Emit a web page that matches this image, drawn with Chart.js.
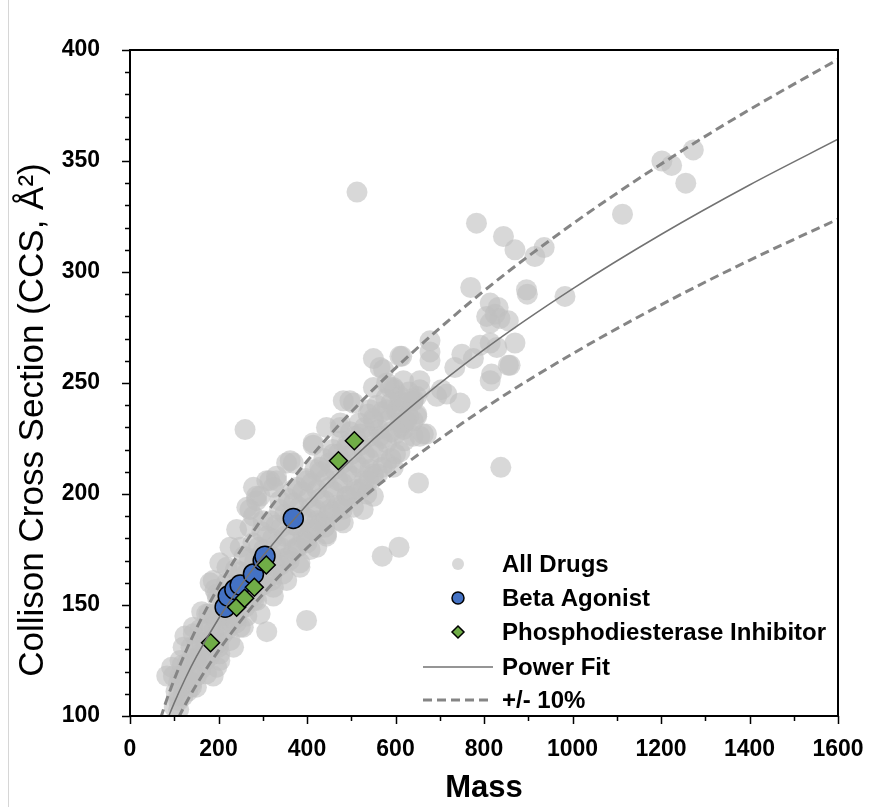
<!DOCTYPE html>
<html>
<head>
<meta charset="utf-8">
<title>CCS vs Mass</title>
<script src="https://cdn.jsdelivr.net/npm/chart.js@4.4.0/dist/chart.umd.min.js"></script>
<style>
  html, body { margin: 0; padding: 0; background: #fff; }
  #wrap { position: relative; width: 873px; height: 807px; }
  #edge { position: absolute; left: 8px; top: 0; width: 1px; height: 807px; background: #d6d6d6; }
  canvas { display: block; }
</style>
</head>
<body>
<div id="wrap">
  <div id="edge"></div>
  <canvas id="ccsChart" width="873" height="807"></canvas>
</div>
<script>
// [mass, CCS] pairs
const allDrugs = [
  // outliers and sparse points
  [513,336],[260,229],[309,138],[399,143],[570,172],[608,176],[652,205],[838,212],
  [783,322],[844,316],[870,310],[915,307],[936,311],[1113,326],[1202,350],[1224,348],
  [1273,355],[1256,340],[770,293],[896,292],[898,290],[983,289],
  [814,286],[832,284],[825,281],[855,278],[814,277],[806,280],[836,279],
  [678,269],[678,264],[678,260],[614,262],[750,263],[734,257],[791,267],[814,268],
  [776,261],[870,268],[859,258],[817,254],[814,251],[829,266],[855,258],
  [704,247],[746,241],[716,245],[693,244],[655,247],[640,242],[648,236],[640,226],
  [663,227],[610,239],[580,250],[610,262],[565,257],[610,230],[648,235],
  [550,261],[573,256],[497,242],[475,230],[414,223],[362,215],[331,208],[294,199],
  [279,190],[648,244],[655,251],[618,251],[588,248],[542,238],[603,238],[618,229],
  [655,226],[565,226],[542,211],[527,203],[490,199],[452,193],[422,188],
  [482,242],[354,214],[316,206],[286,199],[271,193],
  [550,199],[527,193],[482,187],[444,181],[407,175],
  [286,197],[309,206],[331,206],[369,214],[414,222],[444,230],[475,232],[505,241],
  [550,248],[595,248],[640,242],[670,227],[595,212],[550,208],[535,200],[505,194],
  [475,188],[444,182],[422,176],[384,167],[354,161],[324,154],[294,146],[256,140],
  [234,131],[203,125],[173,119],[158,128],[143,137],[173,146],[196,155],[219,167],
  [249,176],[271,185],[301,188],[339,197],[369,202],[399,206],[429,212],[459,218],
  [490,221],[520,227],[550,233],[580,238],[610,242],[625,233],
  [98,118],[83,118],[94,122],[113,125],[124,136],[120,131],[143,140],[181,160],
  [192,157],[162,147],[196,122],[188,118],[150,113],[139,113],[113,118],[203,128],
  [226,134],[249,140],[264,145],[286,152],[324,158],[346,164],[384,169],[377,176],
  [399,181],[264,194],[279,203],[324,203],[241,184],[226,176],[203,169],[188,161],
  // dense band
  [100,104],[104,111],[110,107],
  [120,109],[120,114],[122,119],[118,123],
  [140,115],[140,120],[142,126],[138,131],
  [160,121],[160,127],[162,133],[158,139],
  [180,127],[180,134],[182,140],[178,146],
  [200,133],[200,140],[202,146],[198,153],
  [220,139],[220,146],[222,153],[218,160],
  [240,144],[240,152],[242,159],[238,166],
  [260,149],[260,157],[262,164],[258,172],
  [280,154],[280,162],[282,170],[278,178],
  [300,159],[300,167],[302,175],[298,183],
  [320,163],[320,172],[322,180],[318,188],
  [340,168],[340,176],[342,185],[338,193],
  [360,172],[360,181],[362,190],[358,198],
  [380,176],[380,185],[382,194],[378,203],
  [400,180],[400,189],[402,198],[398,207],
  [420,184],[420,193],[422,202],[418,211],
  [440,188],[440,197],[442,207],[438,216],
  [460,192],[460,201],[462,211],[458,220],
  [480,195],[480,205],[482,214],[478,224],
  [500,199],[500,208],[502,218],[498,228],
  [520,202],[520,212],[522,222],[518,232],
  [540,206],[540,216],[542,226],[538,236],
  [560,209],[560,219],[562,229],[558,240],
  [580,214],[580,223],[582,233],[578,243],
  [600,218],[600,227],[602,237],[598,247],
  [620,224],[620,232],[622,241],
  [640,233],[640,243],
  [110,103],[110,109],[110,115],
  [130,111],[130,117],[130,124],
  [150,118],[150,125],[150,132],
  [170,125],[170,132],[170,139],
  [190,131],[190,139],[190,146],
  [210,137],[210,145],[210,153],
  [230,142],[230,151],[230,159],
  [250,148],[250,156],[250,165],
  [270,153],[270,162],[270,171],
  [290,158],[290,167],[290,176],
  [310,162],[310,172],[310,181],
  [330,167],[330,177],[330,186],
  [350,171],[350,181],[350,191],
  [370,175],[370,186],[370,196],
  [390,180],[390,190],[390,201],
  [410,184],[410,194],[410,205],
  [430,187],[430,198],[430,210],
  [450,191],[450,203],[450,214],
  [470,195],[470,206],[470,218],
  [490,199],[490,210],[490,222],
  [510,202],[510,214],[510,226],
  [530,206],[530,218],[530,230],
  [550,209],[550,221],[550,234],
  [570,212],[570,225],[570,237],
  [590,216],[590,228],[590,241],
  [610,219],[610,232],[610,244],
  [630,235],[630,246],
  [200,131],[240,142],[280,152],[320,161],[360,170],[400,178],[440,185],[480,193]
];

const betaAgonist = [
  [215,149],[222,154],[237,157],[249,159],[279,164],[301,170],[305,172],[369,189]
];

const pdeInhibitor = [
  [182,133],[241,149],[259,153],[281,158],[308,168],[471,215],[507,224]
];

// power fit
const fitMass = [60, 80, 100, 125, 150, 200, 250, 300, 400, 500, 600, 800, 1000, 1200, 1400, 1600];
const fitCcs = [84.6, 96.0, 105.9, 116.9, 126.7, 143.8, 158.7, 172.0, 195.2, 215.4, 233.4, 265.0, 292.4, 316.9, 339.2, 359.8];
const bandPct = 10;

const xTicks = { min: 0, max: 1600, major: 200, minor: 100 };
const yTicks = { min: 100, max: 400, major: 50, minor: 10 };

const SANS = '"Liberation Sans", Arial, sans-serif';
const GRAY = 'rgba(192,192,192,0.62)';
const BLUE = '#4472c4';
const GREEN = '#70ad47';
const FIT_COLOR = '#727272';
const BAND_COLOR = '#858585';
const Y_TITLE = 'Collison Cross Section (CCS, Å²)';

const toXY = pairs => pairs.map(([x, y]) => ({ x, y }));
const fitLine = factor => fitMass.map((m, i) => ({ x: m, y: fitCcs[i] * factor }));

// box frame, major/minor tick marks and the y title
const frameTicks = {
  id: 'frameTicks',
  afterDatasetsDraw(chart) {
    const { ctx, chartArea: a, scales: { x, y } } = chart;
    ctx.save();
    ctx.strokeStyle = '#000';
    ctx.lineWidth = 2;
    ctx.strokeRect(a.left, a.top, a.right - a.left, a.bottom - a.top);
    ctx.lineWidth = 1.5;
    ctx.beginPath();
    for (let v = xTicks.min; v <= xTicks.max; v += xTicks.minor) {
      const px = Math.round(x.getPixelForValue(v)) + 0.5;
      const len = v % xTicks.major === 0 ? 8 : 5;
      ctx.moveTo(px, a.bottom);
      ctx.lineTo(px, a.bottom + len);
    }
    for (let v = yTicks.min; v <= yTicks.max; v += yTicks.minor) {
      const py = Math.round(y.getPixelForValue(v)) + 0.5;
      const len = v % yTicks.major === 0 ? 8 : 5;
      ctx.moveTo(a.left, py);
      ctx.lineTo(a.left - len, py);
    }
    ctx.stroke();

    ctx.translate(33, 420);
    ctx.rotate(-Math.PI / 2);
    ctx.font = '35px ' + SANS;
    ctx.fillStyle = '#000';
    ctx.textAlign = 'center';
    ctx.textBaseline = 'middle';
    ctx.fillText(Y_TITLE, 0, 0);
    ctx.restore();
  }
};

// legend inside the plot, lower right
const insideLegend = {
  id: 'insideLegend',
  afterDraw(chart) {
    const { ctx, chartArea: a } = chart;
    const markX = a.left + 328;
    const textX = a.left + 372;
    const rows = [a.bottom - 152, a.bottom - 118, a.bottom - 84, a.bottom - 49, a.bottom - 16];
    ctx.save();
    ctx.font = 'bold 24px ' + SANS;
    ctx.textBaseline = 'middle';

    ctx.fillStyle = GRAY;
    ctx.beginPath(); ctx.arc(markX, rows[0], 6, 0, Math.PI * 2); ctx.fill();

    ctx.fillStyle = BLUE; ctx.strokeStyle = '#000'; ctx.lineWidth = 1.5;
    ctx.beginPath(); ctx.arc(markX, rows[1], 6, 0, Math.PI * 2); ctx.fill(); ctx.stroke();

    ctx.fillStyle = GREEN;
    ctx.beginPath();
    ctx.moveTo(markX, rows[2] - 6); ctx.lineTo(markX + 6, rows[2]);
    ctx.lineTo(markX, rows[2] + 6); ctx.lineTo(markX - 6, rows[2]);
    ctx.closePath(); ctx.fill(); ctx.stroke();

    ctx.strokeStyle = FIT_COLOR; ctx.lineWidth = 1.5;
    ctx.beginPath(); ctx.moveTo(markX - 35, rows[3]); ctx.lineTo(markX + 35, rows[3]); ctx.stroke();

    ctx.strokeStyle = BAND_COLOR; ctx.lineWidth = 3; ctx.setLineDash([9, 5]);
    ctx.beginPath(); ctx.moveTo(markX - 35, rows[4]); ctx.lineTo(markX + 35, rows[4]); ctx.stroke();
    ctx.setLineDash([]);

    ctx.fillStyle = '#000';
    ['All Drugs', 'Beta Agonist', 'Phosphodiesterase Inhibitor', 'Power Fit', '+/- 10%']
      .forEach((t, i) => ctx.fillText(t, textX, rows[i] + 1));
    ctx.restore();
  }
};

new Chart(document.getElementById('ccsChart'), {
  type: 'scatter',
  data: {
    datasets: [
      {
        label: 'Power Fit',
        data: fitLine(1),
        showLine: true,
        borderColor: FIT_COLOR,
        borderWidth: 1.5,
        pointRadius: 0,
        cubicInterpolationMode: 'monotone'
      },
      {
        label: '+/- 10%',
        data: fitLine(1 + bandPct / 100),
        showLine: true,
        borderColor: BAND_COLOR,
        borderWidth: 3,
        borderDash: [9, 5],
        pointRadius: 0,
        cubicInterpolationMode: 'monotone'
      },
      {
        label: '-10%',
        data: fitLine(1 - bandPct / 100),
        showLine: true,
        borderColor: BAND_COLOR,
        borderWidth: 3,
        borderDash: [9, 5],
        pointRadius: 0,
        cubicInterpolationMode: 'monotone'
      },
      {
        label: 'Phosphodiesterase Inhibitor',
        data: toXY(pdeInhibitor),
        pointStyle: 'rectRot',
        pointRadius: 9,
        backgroundColor: GREEN,
        borderColor: '#000',
        borderWidth: 1.5
      },
      {
        label: 'Beta Agonist',
        data: toXY(betaAgonist),
        pointStyle: 'circle',
        pointRadius: 10,
        backgroundColor: BLUE,
        borderColor: '#000',
        borderWidth: 1.5
      },
      {
        label: 'All Drugs',
        data: toXY(allDrugs),
        pointStyle: 'circle',
        pointRadius: 10.5,
        backgroundColor: GRAY,
        borderWidth: 0
      }
    ]
  },
  options: {
    responsive: false,
    animation: false,
    events: [],
    layout: { padding: { top: 50, right: 35, left: 0, bottom: 0 } },
    plugins: {
      legend: { display: false },
      tooltip: { enabled: false }
    },
    scales: {
      x: {
        type: 'linear',
        min: xTicks.min,
        max: xTicks.max,
        grid: { display: false },
        border: { display: false },
        ticks: {
          stepSize: xTicks.major,
          color: '#000',
          padding: 12,
          maxRotation: 0,
          callback: v => String(v),
          font: { family: SANS, size: 23, weight: 'bold' }
        },
        title: {
          display: true,
          text: 'Mass',
          color: '#000',
          padding: { top: 0, bottom: 0 },
          font: { family: SANS, size: 31, weight: 'bold' }
        },
        afterFit(scale) {
          scale.height = 91;
          scale.paddingLeft = 0;
          scale.paddingRight = 0;
        }
      },
      y: {
        type: 'linear',
        min: yTicks.min,
        max: yTicks.max,
        grid: { display: false },
        border: { display: false },
        ticks: {
          stepSize: yTicks.major,
          color: '#000',
          padding: 22,
          callback: v => String(v),
          font: { family: SANS, size: 23, weight: 'bold' }
        },
        afterFit(scale) {
          scale.width = 130;
          scale.paddingTop = 0;
          scale.paddingBottom = 0;
        }
      }
    }
  },
  plugins: [frameTicks, insideLegend]
});
</script>
</body>
</html>
